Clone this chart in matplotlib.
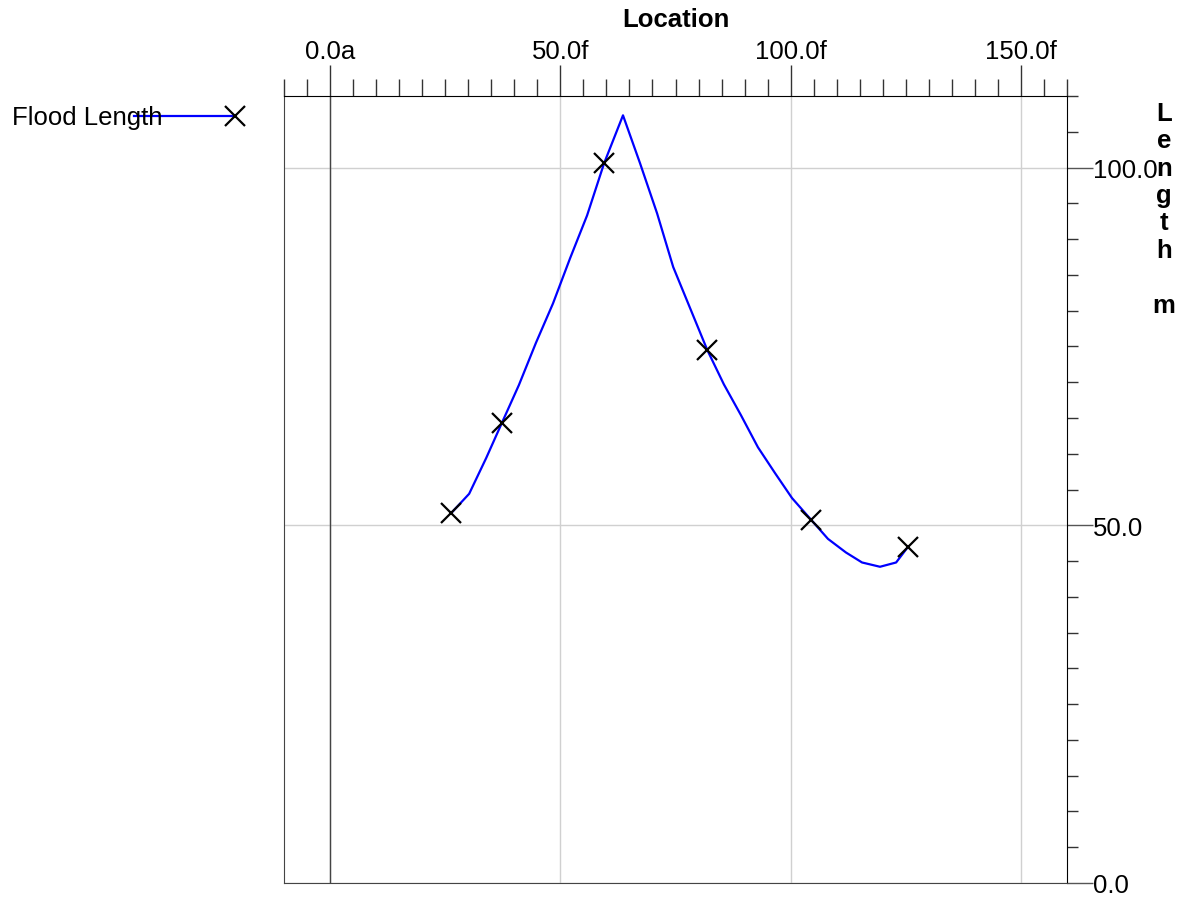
import matplotlib
matplotlib.use('Agg')
import matplotlib.pyplot as plt
from matplotlib.lines import Line2D
from matplotlib.ticker import MultipleLocator

plt.rcParams['font.family'] = ['Liberation Sans', 'DejaVu Sans']

# data
location = [26.3, 30.2, 33.9, 37.3, 41.0, 44.7, 48.4, 52.1, 55.8, 59.5,
            63.6, 67.3, 71.0, 74.5, 78.2, 81.9, 85.5, 89.2, 92.9, 96.6,
            100.3, 104.4, 108.1, 112.0, 115.5, 119.4, 122.9, 125.5]
length = [51.7, 54.4, 59.4, 64.3, 69.6, 75.5, 81.0, 87.3, 93.3, 100.6,
          107.3, 100.6, 93.6, 86.1, 80.3, 74.5, 69.7, 65.4, 60.9, 57.3,
          53.8, 50.8, 48.1, 46.2, 44.8, 44.2, 44.8, 47.0]
marker_idx = [0, 3, 9, 15, 21, 27]

x_ticks = [0, 50, 100, 150]
x_tick_labels = ['0.0a', '50.0f', '100.0f', '150.0f']
y_ticks = [0, 50, 100]
y_tick_labels = ['0.0', '50.0', '100.0']

FS = 18.5
W, H = 1188, 903
fig = plt.figure(figsize=(W / 100, H / 100), dpi=100)
ax = fig.add_axes([284 / W, 19 / H, 783 / W, 787 / H])

line_style = dict(color='#0000ff', lw=1.6, marker='x', ms=14,
                  mec='black', mew=1.6)
ax.plot(location, length, markevery=marker_idx, zorder=3, **line_style)

ax.set_xlim(-10, 160)
ax.set_ylim(0, 110)
ax.xaxis.tick_top()
ax.yaxis.tick_right()
ax.set_xticks(x_ticks, x_tick_labels)
ax.set_yticks(y_ticks, y_tick_labels)
ax.xaxis.set_minor_locator(MultipleLocator(5))
ax.yaxis.set_minor_locator(MultipleLocator(5))

ax.tick_params(axis='x', which='major', length=22, width=1, color='#333333',
               labelsize=FS, pad=1.8)
ax.tick_params(axis='x', which='minor', length=12, width=1, color='#333333')
ax.tick_params(axis='y', which='major', length=18.5, width=1, color='#555555',
               labelsize=FS, pad=0)
ax.tick_params(axis='y', which='minor', length=8, width=1, color='#333333')

ax.grid(True, which='major', color='#d0d0d0', lw=1, zorder=1)
ax.axvline(0, color='#444444', lw=1, zorder=2)
for side in ['left', 'bottom']:
    ax.spines[side].set_color('#444444')
for side in ['top', 'right']:
    ax.spines[side].set_color('black')

ax.set_xlabel('Location', fontsize=FS, fontweight='bold', labelpad=9)
ax.xaxis.set_label_position('top')
ax.text(1.124, 0.994, 'L\ne\nn\ng\nt\nh\n\nm', transform=ax.transAxes,
        ha='center', va='top', multialignment='center', linespacing=1.18,
        fontsize=FS, fontweight='bold')

# legend, drawn by hand to the left of the plot
fig.text(12 / W, 1 - 118 / H, 'Flood Length', fontsize=FS, va='center')
fig.add_artist(Line2D([134 / W, 235 / W], [1 - 117 / H, 1 - 117 / H],
                      transform=fig.transFigure, markevery=[1], **line_style))

fig.savefig('out.png', dpi=100)
